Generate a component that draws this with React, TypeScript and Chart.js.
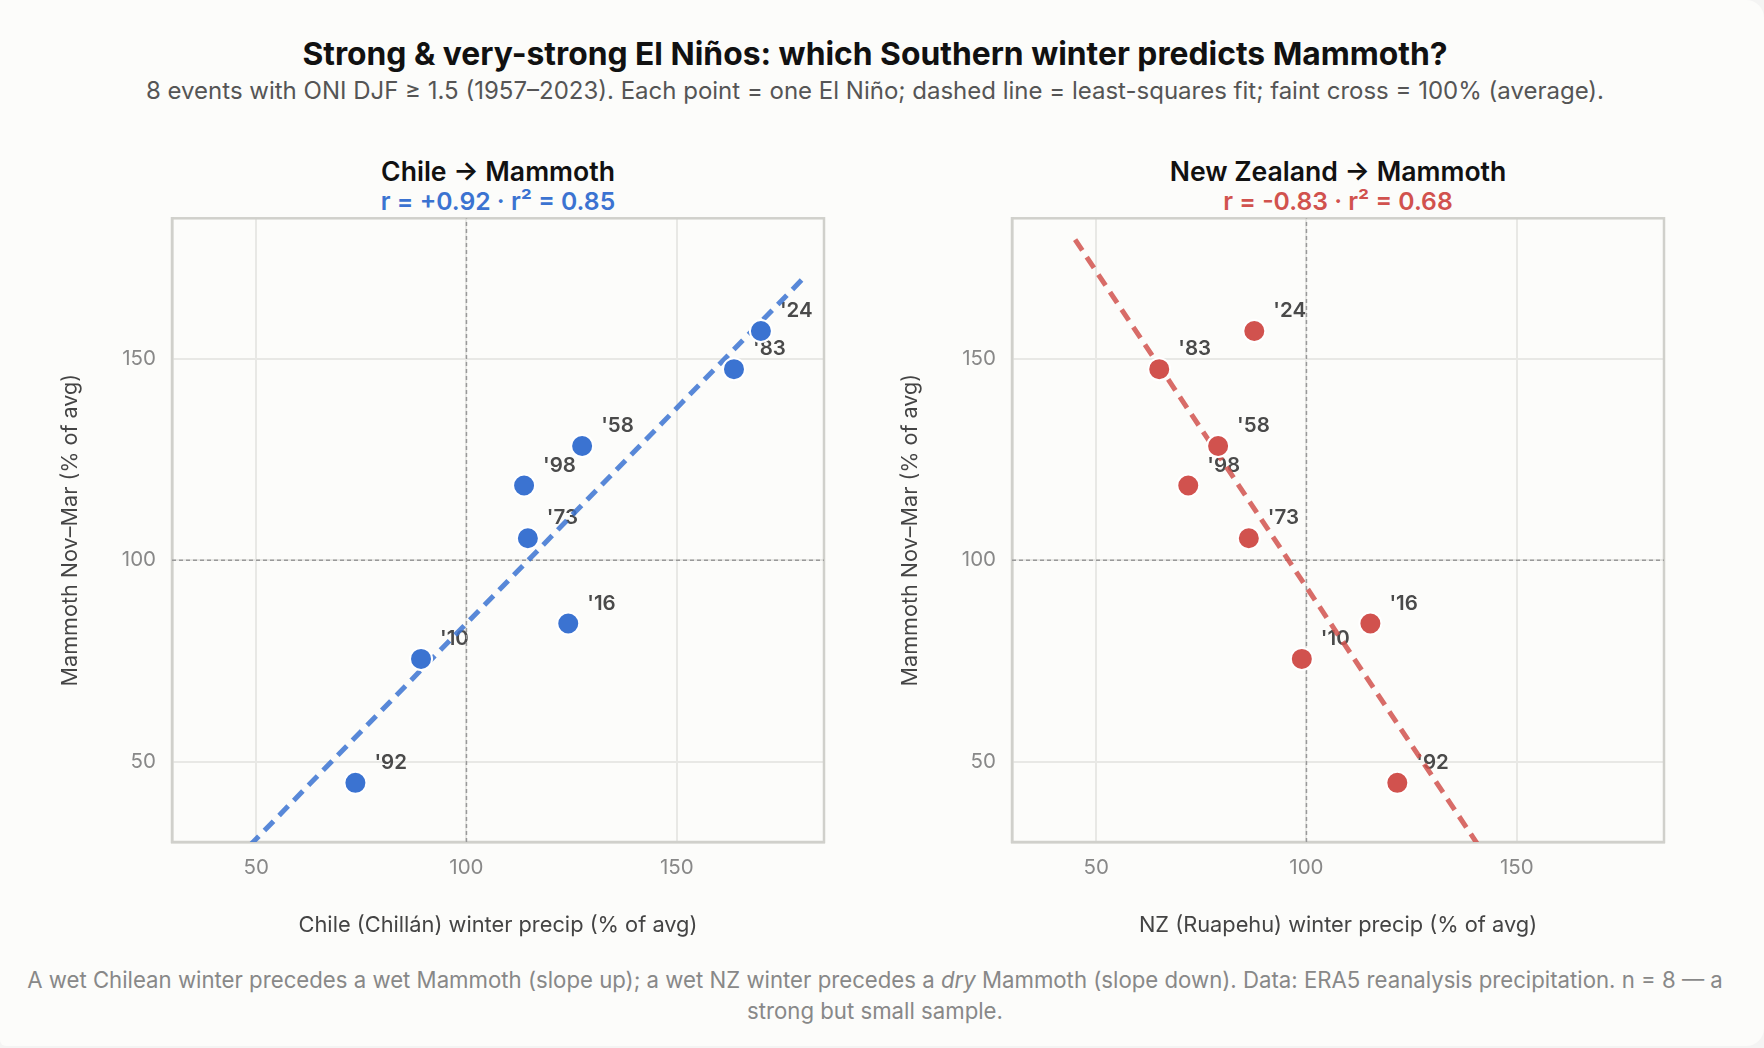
import React, { useEffect, useRef } from 'react';
import { Chart, registerables } from 'chart.js';

Chart.register(...registerables);

const FONT = 'Inter, "Noto Sans", sans-serif';

const years = ["'58", "'73", "'83", "'92", "'98", "'10", "'16", "'24"];
const mammoth = [128.4, 105.5, 147.5, 44.7, 118.6, 75.5, 84.3, 157];
const chile = [127.5, 114.6, 163.6, 73.6, 113.7, 89.2, 124.2, 170];
const nz = [79, 86.3, 65, 121.6, 71.9, 98.9, 115.2, 87.6];

// least-squares lines, end points
const chileFit = [
  { x: 45, y: 25.4 },
  { x: 180, y: 170 },
];
const nzFit = [
  { x: 45, y: 179.7 },
  { x: 180, y: -32.3 },
];

const axisRange = [30, 185];
const tickValues = [50, 100, 150];
const crossAt = 100;

// plot frame and year labels sit under the fit line and the points
const frameAndLabels = {
  id: 'frameAndLabels',
  beforeDatasetsDraw(chart: any) {
    const { ctx, scales, chartArea } = chart;
    ctx.save();
    ctx.strokeStyle = '#d0d0cb';
    ctx.lineWidth = 2.5;
    ctx.strokeRect(chartArea.left, chartArea.top, chartArea.width, chartArea.height);

    ctx.font = `600 20.5px ${FONT}`;
    ctx.fillStyle = '#4a4a4a';
    ctx.textAlign = 'left';
    ctx.textBaseline = 'middle';
    chart.data.datasets[0].data.forEach((p: any, i: number) => {
      ctx.fillText(years[i], scales.x.getPixelForValue(p.x) + 19, scales.y.getPixelForValue(p.y) - 20);
    });
    ctx.restore();
  },
};

type PanelProps = {
  title: string;
  stats: string;
  color: string;
  lineColor: string;
  xLabel: string;
  xs: number[];
  fit: { x: number; y: number }[];
  left: number;
};

function Panel({ title, stats, color, lineColor, xLabel, xs, fit, left }: PanelProps) {
  const ref = useRef<HTMLCanvasElement>(null);

  useEffect(() => {
    if (!ref.current) return;
    const crossLine = {
      type: 'line' as const,
      borderColor: '#999',
      borderWidth: 1.5,
      borderDash: [4, 3],
      pointRadius: 0,
      order: 3,
    };
    const axisBase = {
      type: 'linear' as const,
      min: axisRange[0],
      max: axisRange[1],
      afterBuildTicks: (axis: any) => {
        axis.ticks = tickValues.map((value) => ({ value }));
      },
      grid: { color: '#e8e8e5', lineWidth: 2, drawTicks: false },
      border: { color: '#d0d0cb', width: 2.5 },
    };
    const chart = new Chart(ref.current, {
      type: 'scatter',
      data: {
        datasets: [
          {
            data: xs.map((x, i) => ({ x, y: mammoth[i] })),
            backgroundColor: color,
            borderColor: '#fff',
            borderWidth: 2,
            pointRadius: 11,
            order: 1,
          },
          {
            type: 'line',
            data: fit,
            borderColor: lineColor,
            borderWidth: 5,
            borderDash: [13, 8],
            pointRadius: 0,
            order: 2,
          },
          { ...crossLine, data: [{ x: crossAt, y: axisRange[0] }, { x: crossAt, y: axisRange[1] }] },
          { ...crossLine, data: [{ x: axisRange[0], y: crossAt }, { x: axisRange[1], y: crossAt }] },
        ],
      },
      options: {
        animation: false,
        responsive: false,
        layout: { padding: { top: 10, right: 16 } },
        plugins: {
          legend: { display: false },
          tooltip: { enabled: false },
        },
        scales: {
          x: {
            ...axisBase,
            afterFit: (axis: any) => {
              axis.height = 110;
            },
            ticks: { color: '#888', font: { family: FONT, size: 20.5 }, padding: 14 },
            title: {
              display: true,
              text: xLabel,
              color: '#444',
              font: { family: FONT, size: 21.8 },
              padding: { top: 13, bottom: 13 },
            },
          },
          y: {
            ...axisBase,
            afterFit: (axis: any) => {
              axis.width = 132;
            },
            ticks: { color: '#888', font: { family: FONT, size: 20.5 }, padding: 16 },
            title: {
              display: true,
              text: 'Mammoth Nov–Mar (% of avg)',
              color: '#444',
              font: { family: FONT, size: 21.6 },
              padding: { top: 18, bottom: 18 },
            },
          },
        },
      },
      plugins: [frameAndLabels],
    });
    return () => chart.destroy();
  }, []);

  return (
    <>
      <div
        style={{
          position: 'absolute',
          left: left + 132,
          top: 154,
          width: 652,
          textAlign: 'center',
          fontSize: 26.6,
          fontWeight: 600,
          color: '#111',
          lineHeight: '34px',
        }}
      >
        {title}
      </div>
      <div
        style={{
          position: 'absolute',
          left: left + 132,
          top: 186,
          width: 652,
          textAlign: 'center',
          fontSize: 24.7,
          fontWeight: 600,
          color,
          lineHeight: '31px',
        }}
      >
        {stats}
      </div>
      <canvas
        ref={ref}
        width={800}
        height={762}
        style={{ position: 'absolute', left, top: 190, width: 800, height: 762 }}
      />
    </>
  );
}

export default function App() {
  useEffect(() => {
    document.body.style.margin = '0';
    document.body.style.background = '#f4f4f3';
  }, []);

  return (
    <div
      style={{
        position: 'relative',
        width: 1764,
        height: 1046,
        background: '#fcfcfa',
        borderRadius: '0 18px 18px 6px',
        fontFamily: FONT,
        overflow: 'hidden',
      }}
    >
      <div
        style={{
          position: 'absolute',
          top: 34,
          left: 0,
          width: 1750,
          textAlign: 'center',
          fontSize: 31.8,
          fontWeight: 700,
          color: '#111',
          lineHeight: '40px',
        }}
      >
        Strong &amp; very-strong El Niños: which Southern winter predicts Mammoth?
      </div>
      <div
        style={{
          position: 'absolute',
          top: 76,
          left: 0,
          width: 1750,
          textAlign: 'center',
          fontSize: 24,
          color: '#555',
          lineHeight: '30px',
        }}
      >
        8 events with ONI DJF ≥ 1.5 (1957–2023). Each point = one El Niño; dashed line = least-squares fit; faint cross =
        100% (average).
      </div>
      <Panel
        title="Chile → Mammoth"
        stats="r = +0.92 · r² = 0.85"
        color="#3b73d1"
        lineColor="rgba(59,115,209,0.85)"
        xLabel="Chile (Chillán) winter precip (% of avg)"
        xs={chile}
        fit={chileFit}
        left={40}
      />
      <Panel
        title="New Zealand → Mammoth"
        stats="r = -0.83 · r² = 0.68"
        color="#d1524e"
        lineColor="rgba(209,82,78,0.85)"
        xLabel="NZ (Ruapehu) winter precip (% of avg)"
        xs={nz}
        fit={nzFit}
        left={880}
      />
      <div
        style={{
          position: 'absolute',
          top: 964,
          left: 20,
          width: 1710,
          textAlign: 'center',
          fontSize: 22.2,
          color: '#888',
          lineHeight: '31px',
        }}
      >
        A wet Chilean winter precedes a wet Mammoth (slope up); a wet NZ winter precedes a <em>dry</em> Mammoth (slope
        down). Data: ERA5 reanalysis precipitation. n = 8 — a strong but small sample.
      </div>
    </div>
  );
}
